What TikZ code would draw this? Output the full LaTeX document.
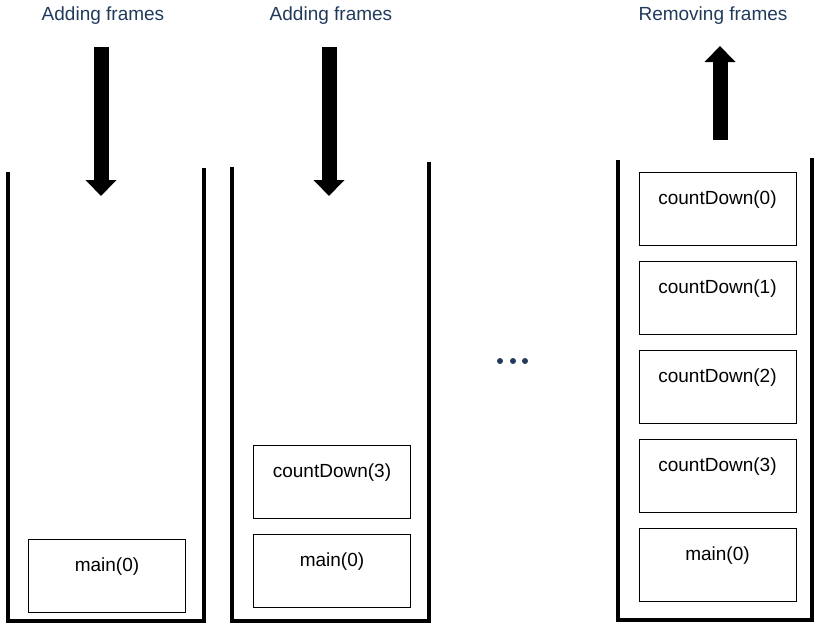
\documentclass[tikz,border=0pt]{standalone}
\usepackage{fontspec}
\setmainfont{Liberation Sans}
\usetikzlibrary{arrows.meta}
\definecolor{titleblue}{RGB}{33,58,92}
\tikzset{
  frame/.style={draw,line width=1pt,minimum width=157pt,minimum height=73pt,
    text height=14pt,text depth=23pt,font=\fontsize{19}{22}\selectfont},
  wall/.style={line width=4pt,line join=miter},
  heading/.style={text=titleblue,font=\fontsize{19}{22}\selectfont},
  push/.style={line width=15pt,-{Triangle[width=30pt,length=16pt]}}
}
\begin{document}
\begin{tikzpicture}[x=1pt,y=-1pt]
                \useasboundingbox (0,0) rectangle (814,624);
                % titles
                \node[heading] (t1) at (103,16) {Adding frames};
                \node[heading] (t2) at (331,16) {Adding frames};
                \node[heading] (t3) at (713,16) {Removing frames};
                % arrows
                \coordinate (a1) at (101,47); \coordinate (b1) at (101,196);
                \coordinate (a2) at (329,47); \coordinate (b2) at (329,196);
                \coordinate (a3) at (720,140); \coordinate (b3) at (720,46);
                \draw[push] (a1) -- (b1);
                \draw[push] (a2) -- (b2);
                \draw[push] (a3) -- (b3);
                % stacks
                \draw[wall] (8,172) -- (8,621) -- (204,621) -- (204,168);
                \draw[wall] (232,167) -- (232,621) -- (429,621) -- (429,162);
                \draw[wall] (618,160) -- (618,620) -- (812,620) -- (812,158);
                \node[frame] (m1) at (107,575.5) {main(0)};
                \node[frame] (c2) at (332,481.5) {countDown(3)};
                \node[frame] (m2) at (332,570.5) {main(0)};
                \foreach \n/\lbl [count=\i from 0] in {c30/countDown(0),c31/countDown(1),c32/countDown(2),c33/countDown(3),m3/main(0)}
                    \node[frame] (\n) at (717.5,208.5+89*\i) {\lbl};
                % dots
                \foreach \x in {500,513,525}
                    \fill[titleblue] (\x,361) circle (3pt);
            \end{tikzpicture}
\end{document}
